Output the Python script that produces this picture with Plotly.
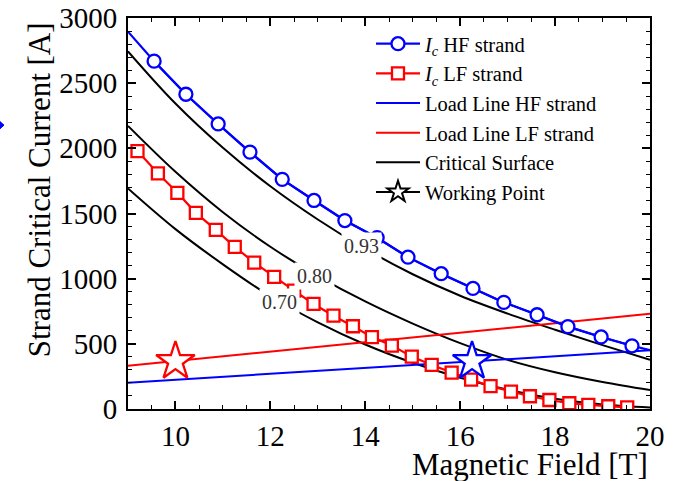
import plotly.graph_objects as go

# ---- data ----
hf_x = [9.55, 10.22, 10.90, 11.57, 12.25, 12.92, 13.57, 14.25, 14.90, 15.60,
        16.27, 16.92, 17.62, 18.27, 18.97, 19.62]
hf_y = [2669, 2415, 2187, 1971, 1762, 1600, 1446, 1314, 1165, 1038,
        925, 818, 723, 632, 553, 485]
hf_line_x = [9.0] + hf_x + [20.0]
hf_line_y = [2895] + hf_y + [452]

lf_x = [9.20, 9.63, 10.04, 10.43, 10.85, 11.25, 11.66, 12.08, 12.50, 12.91,
        13.33, 13.74, 14.14, 14.56, 14.98, 15.40, 15.82, 16.23, 16.64, 17.07,
        17.47, 17.88, 18.30, 18.70, 19.12, 19.52]
lf_y = [1979, 1808, 1659, 1505, 1374, 1244, 1123, 1014, 908, 806,
        716, 635, 552, 487, 402, 338, 279, 226, 175, 133,
        98, 69, 44, 31, 21, 13]

load_x = [9.0, 20.0]
load_hf_y = [202, 450]
load_lf_y = [332, 730]

cs_x = [9, 10, 11, 12, 13, 14, 15, 16, 17, 18, 19, 20]
cs_093 = [2744, 2344, 2004, 1709, 1454, 1229, 1034, 869, 732, 608, 490, 377]
cs_080 = [2172, 1820, 1510, 1245, 1020, 825, 655, 505, 377, 282, 207, 145]
cs_070 = [1692, 1380, 1110, 865, 665, 495, 355, 240, 148, 78, 35, 12]
cs_labels = ["0.93", "0.80", "0.70"]
cs_label_x = [13.93, 12.94, 12.19]
cs_label_y = [1248, 1018, 818]

wp_x = [10.0, 16.25]
wp_y = [366, 366]

x_ticks = [10, 12, 14, 16, 18, 20]
y_ticks = [0, 500, 1000, 1500, 2000, 2500, 3000]

BLUE = "#0000ff"
RED = "#ff0000"
FONT = "Liberation Serif"

fig = go.Figure()

# critical surface curves
for ys in [cs_093, cs_080, cs_070]:
    fig.add_trace(go.Scatter(x=cs_x, y=ys, mode="lines",
                             line=dict(color="black", width=2, shape="spline", smoothing=1.0),
                             name="Critical Surface", legendgroup="cs", showlegend=False))

# load lines
fig.add_trace(go.Scatter(x=load_x, y=load_hf_y, mode="lines", line=dict(color=BLUE, width=2),
                         showlegend=False))
fig.add_trace(go.Scatter(x=load_x, y=load_lf_y, mode="lines", line=dict(color=RED, width=2),
                         showlegend=False))

# Ic curves
fig.add_trace(go.Scatter(x=hf_line_x, y=hf_line_y, mode="lines", line=dict(color=BLUE, width=2.2),
                         showlegend=False))
fig.add_trace(go.Scatter(x=hf_x, y=hf_y, mode="lines+markers", name="<i>I<sub>c</sub></i> HF strand",
                         line=dict(color=BLUE, width=2.2),
                         marker=dict(symbol="circle", size=13, color="white", line=dict(color=BLUE, width=2.3))))
fig.add_trace(go.Scatter(x=lf_x, y=lf_y, mode="lines+markers", name="<i>I<sub>c</sub></i> LF strand",
                         line=dict(color=RED, width=2.2),
                         marker=dict(symbol="square", size=12, color="white", line=dict(color=RED, width=2.3))))

# legend-only entries
fig.add_trace(go.Scatter(x=[None], y=[None], mode="lines", name="Load Line HF strand",
                         line=dict(color=BLUE, width=2)))
fig.add_trace(go.Scatter(x=[None], y=[None], mode="lines", name="Load Line LF strand",
                         line=dict(color=RED, width=2)))
fig.add_trace(go.Scatter(x=[None], y=[None], mode="lines", name="Critical Surface",
                         line=dict(color="black", width=2)))
fig.add_trace(go.Scatter(x=[None], y=[None], mode="lines+markers", name="Working Point",
                         line=dict(color="black", width=2),
                         marker=dict(symbol="star", size=16, color="white", line=dict(color="black", width=2))))

# working points
fig.add_trace(go.Scatter(x=wp_x[:1], y=wp_y[:1], mode="markers", showlegend=False,
                         marker=dict(symbol="star", size=29, color="white", line=dict(color=RED, width=2.3))))
fig.add_trace(go.Scatter(x=wp_x[1:], y=wp_y[1:], mode="markers", showlegend=False,
                         marker=dict(symbol="star", size=29, color="white", line=dict(color=BLUE, width=2.3))))

# contour labels
for t, lx, ly in zip(cs_labels, cs_label_x, cs_label_y):
    fig.add_annotation(x=lx, y=ly, text=t, showarrow=False, bgcolor="white",
                       font=dict(family=FONT, size=20, color="#333333"), borderpad=2)

# axis titles
fig.add_annotation(xref="paper", yref="paper", x=1.0, y=-0.142, xanchor="right", yanchor="middle",
                   text="Magnetic Field [T]", showarrow=False,
                   font=dict(family=FONT, size=31, color="black"))
fig.add_annotation(xref="paper", yref="paper", x=-0.170, y=0.56, xanchor="center", yanchor="middle",
                   text="Strand Critical Current [A]", showarrow=False, textangle=-90,
                   font=dict(family=FONT, size=31, color="black"))

# stray arrow tip at left edge
fig.add_shape(type="path", xref="paper", yref="paper",
              path="M -0.2452 0.735 L -0.2375 0.726 L -0.2452 0.717 Z",
              fillcolor=BLUE, line=dict(color=BLUE, width=1))

axis_common = dict(showline=True, linecolor="black", linewidth=2, mirror="allticks",
                   ticks="inside", ticklen=8, tickwidth=1.5, tickcolor="black",
                   showgrid=False, zeroline=False, automargin=False,
                   tickfont=dict(family=FONT, size=29, color="black"))
fig.update_xaxes(range=[9, 20], tickvals=x_ticks,
                 minor=dict(dtick=0.5, ticks="inside", ticklen=4, tickwidth=1.2, tickcolor="black"),
                 **axis_common)
fig.update_yaxes(range=[0, 3000], tickvals=y_ticks, ticklabelstandoff=3,
                 minor=dict(dtick=100, ticks="inside", ticklen=4, tickwidth=1.2, tickcolor="black"),
                 **axis_common)

fig.update_layout(
    width=675, height=481,
    margin=dict(l=128, r=25, t=18, b=72),
    plot_bgcolor="white", paper_bgcolor="white",
    font=dict(family=FONT, color="black"),
    legend=dict(x=0.4655, y=0.985, xanchor="left", yanchor="top",
                font=dict(family=FONT, size=20.5, color="black"),
                bgcolor="rgba(0,0,0,0)", tracegroupgap=0, itemwidth=44),
)

fig.write_html("out.html", config={"displayModeBar": False},
               post_script="document.body.style.margin='0';document.body.style.overflow='hidden';")
